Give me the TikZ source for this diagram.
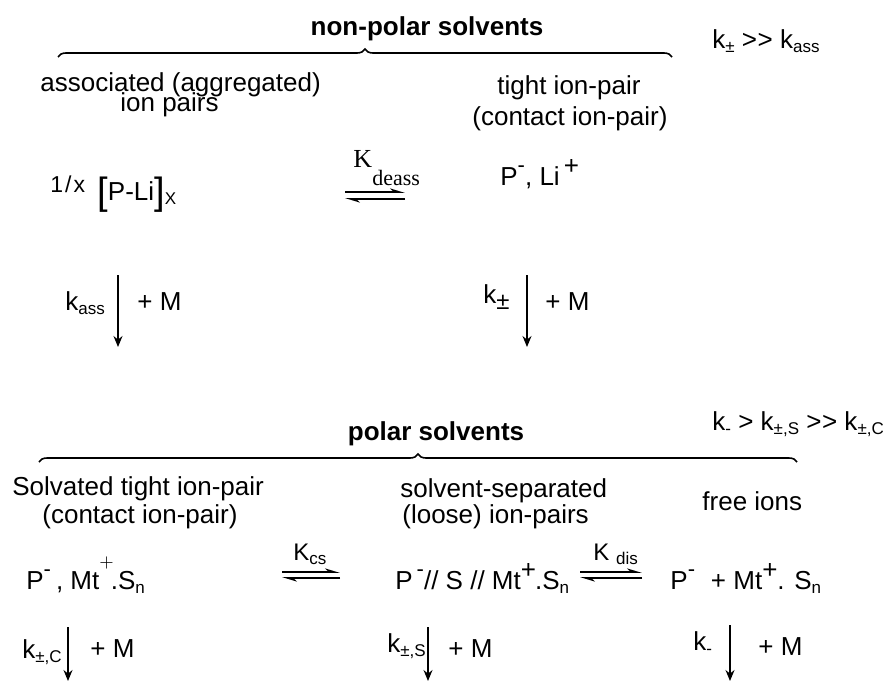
\documentclass[tikz,border=0pt]{standalone}
\usepackage{fontspec}
\setmainfont{Liberation Sans}
\newfontfamily\timesfont{Liberation Serif}
\usetikzlibrary{arrows.meta,decorations.pathreplacing}
\newcommand{\lo}[1]{\raisebox{-0.35ex}{\fontsize{8.5}{9}\selectfont #1}}
\newcommand{\hi}[1]{\raisebox{0.9ex}{\fontsize{11}{11}\selectfont #1}}
\newcommand{\hip}{\raisebox{0.75ex}{+}}
\newcommand{\much}{>\kern0.3pt>}
\newcommand{\bigbr}[1]{\raisebox{-0.3ex}{\fontsize{19}{19}\selectfont #1}}

\begin{document}
\begin{tikzpicture}[x=0.5pt,y=-0.5pt,
  lbl/.style={inner sep=0pt,anchor=base west,font=\fontsize{13}{15}\selectfont},
  ttl/.style={inner sep=0pt,anchor=base,font=\fontsize{13}{15}\selectfont\bfseries},
  rxn/.style={line width=0.7pt,-{Stealth[length=5.5pt,width=4.5pt]}},
  eqm/.style={line width=0.9pt,-{Stealth[left,length=6pt,width=3.6pt]}},
  brc/.style={decorate,decoration={brace,amplitude=4pt},line width=0.8pt}]
\useasboundingbox (0,0) rectangle (883,680);
% non-polar solvents
\node[ttl] (np) at (427,35) {non-polar solvents};
\draw[brc] (58,57) -- (672,57);
\node[lbl] (rate1) at (712,48) {k\lo{±} \much\ k\lo{ass}};
\node[lbl] (assoc) at (40,91) {associated (aggregated)};
\node[lbl] (assoc2) at (120,111) {ion pairs};
\node[lbl] (tight) at (497,94) {tight ion-pair};
\node[lbl] (tight2) at (472,125) {(contact ion-pair)};
\node[lbl,font=\fontsize{11.5}{12}\selectfont] (frac) at (50,192) {1\kern1pt/\kern1pt x};
\node[lbl] (agg) at (97,200) {\bigbr{[}P-Li\bigbr{]}\lo{X}};
\node[lbl] (tip) at (500,185) {P\hi{-}, Li\kern2pt\hip};
\node[lbl,font=\fontsize{13}{14}\timesfont] (kdeass) at (353,167) {K};
\node[lbl,font=\fontsize{11}{12}\timesfont] (kdeass2) at (372,185) {deass};
\coordinate (e1a) at (345,192); \coordinate (e1b) at (405,192);
\coordinate (e1c) at (405,199); \coordinate (e1d) at (345,199);
\draw[eqm] (e1a) -- (e1b);
\draw[eqm] (e1c) -- (e1d);
\coordinate (d1a) at (118,275); \coordinate (d1b) at (118,347);
\coordinate (d2a) at (527,275); \coordinate (d2b) at (527,347);
\draw[rxn] (d1a) -- (d1b);
\draw[rxn] (d2a) -- (d2b);
\node[lbl] (kass) at (65,310) {k\lo{ass}};
\node[lbl] (m1) at (137,310) {+ M};
\node[lbl] (kpm) at (483,303) {k\raisebox{-0.45ex}{\fontsize{12}{12}\selectfont ±}};
\node[lbl] (m2) at (545,310) {+ M};
% polar solvents
\node[ttl] (pol) at (436,440) {polar solvents};
\draw[brc] (39,462) -- (797,462);
\node[lbl] (rate2) at (712,430) {k\lo{-} > k\lo{±,S} \much\ k\lo{±,C}};
\node[lbl] (solv) at (12,495) {Solvated tight ion-pair};
\node[lbl] (solv2) at (42,523) {(contact ion-pair)};
\node[lbl] (sep) at (400,497) {solvent-separated};
\node[lbl] (sep2) at (402,523) {(loose) ion-pairs};
\node[lbl] (free) at (702,510) {free ions};
\node[lbl] (cip) at (26,589) {P\hi{-}\kern2.5pt, Mt\raisebox{11pt}{\fontsize{9}{9}\selectfont$+$}\kern-1.5pt.S\lo{n}};
\node[lbl] (ssip) at (395,589) {P\kern2pt\hi{-}// S // Mt\hip\kern-0.5pt.S\lo{n}};
\node[lbl] (fi) at (670,589) {P\hi{-}\,\, + Mt\hip. S\lo{n}};
\node[lbl,font=\fontsize{12}{13}\selectfont] (kcs) at (293,560) {K\lo{cs}};
\node[lbl,font=\fontsize{12}{13}\selectfont] (kdis) at (593,560) {K \lo{dis}};
\coordinate (e2a) at (282,572); \coordinate (e2b) at (340,572);
\coordinate (e2c) at (340,578); \coordinate (e2d) at (282,578);
\draw[eqm] (e2a) -- (e2b);
\draw[eqm] (e2c) -- (e2d);
\coordinate (e3a) at (580,572); \coordinate (e3b) at (642,572);
\coordinate (e3c) at (642,578); \coordinate (e3d) at (580,578);
\draw[eqm] (e3a) -- (e3b);
\draw[eqm] (e3c) -- (e3d);
\coordinate (d3a) at (68,627); \coordinate (d3b) at (68,681);
\coordinate (d4a) at (428,627); \coordinate (d4b) at (428,681);
\coordinate (d5a) at (730,625); \coordinate (d5b) at (730,681);
\draw[rxn] (d3a) -- (d3b);
\draw[rxn] (d4a) -- (d4b);
\draw[rxn] (d5a) -- (d5b);
\node[lbl] (kc) at (22,658) {k\lo{±,C}};
\node[lbl] (m3) at (90,657) {+ M};
\node[lbl] (ks) at (387,652) {k\lo{±,S}};
\node[lbl] (m4) at (448,657) {+ M};
\node[lbl] (km) at (693,650) {k\lo{-}};
\node[lbl] (m5) at (758,655) {+ M};
\end{tikzpicture}
\end{document}
